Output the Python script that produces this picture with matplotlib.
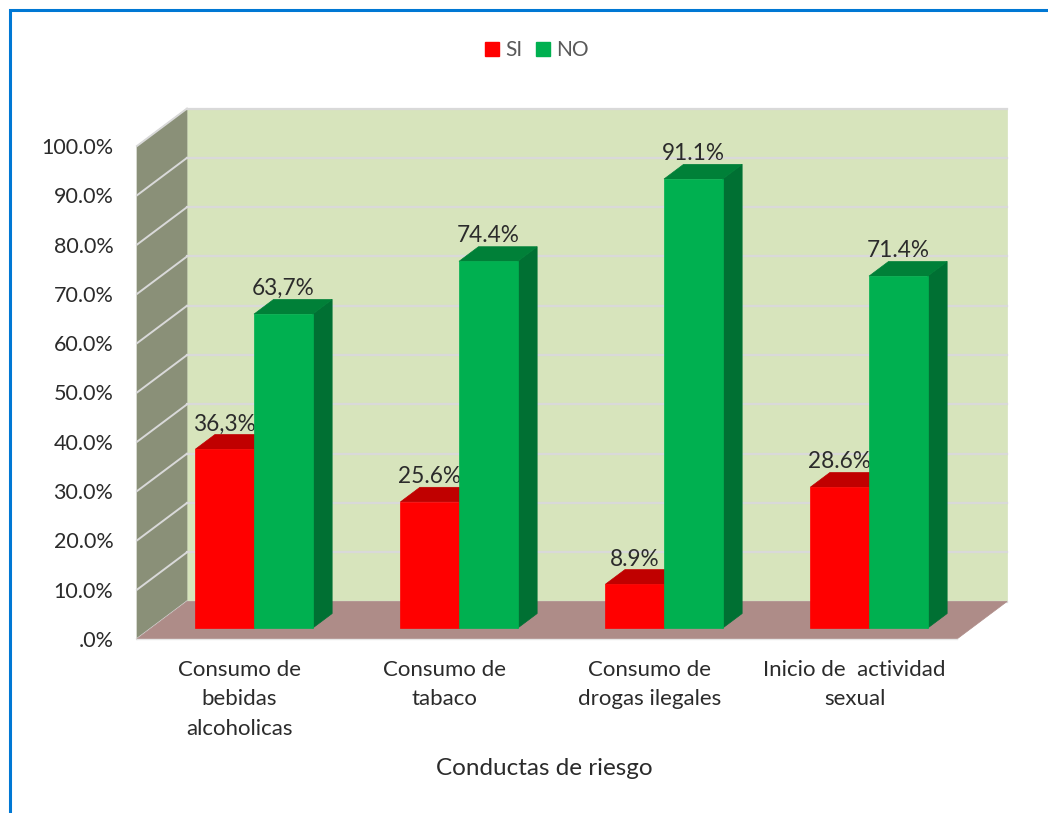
import matplotlib
matplotlib.use("Agg")
import matplotlib.pyplot as plt
from matplotlib.lines import Line2D
from matplotlib.patches import Patch, Polygon

categories = [
    "Consumo de\nbebidas\nalcoholicas",
    "Consumo de\ntabaco",
    "Consumo de\ndrogas ilegales",
    "Inicio de  actividad\nsexual",
]
si_values = [36.3, 25.6, 8.9, 28.6]
no_values = [63.7, 74.4, 91.1, 71.4]
si_labels = ["36,3%", "25.6%", "8.9%", "28.6%"]
no_labels = ["63,7%", "74.4%", "91.1%", "71.4%"]
y_ticks = [0, 10, 20, 30, 40, 50, 60, 70, 80, 90, 100]
y_tick_labels = [".0%", "10.0%", "20.0%", "30.0%", "40.0%", "50.0%",
                 "60.0%", "70.0%", "80.0%", "90.0%", "100.0%"]

W, H = 1048, 813
DEPTH_X = 0.244   # depth of the box in category units
DEPTH_Y = 7.6     # depth of the box in percent units
BAR_W = 0.286
BAR_D0, BAR_D1 = 0.29, 0.68   # where the bars sit inside the box depth

TEXT = "#2B2B2B"
GRID = "#D9D9D9"

plt.rcParams["font.family"] = ["Lato", "DejaVu Sans"]


def poly(ax, pts, color, z):
    ax.add_patch(Polygon(pts, closed=True, facecolor=color, edgecolor=color,
                         linewidth=0.5, zorder=z, clip_on=False))


def at_depth(x, y, d):
    return (x + d * DEPTH_X, y + d * DEPTH_Y)


def draw_bar(ax, x0, value, front, top, side, z):
    x1 = x0 + BAR_W
    # front face
    poly(ax, [at_depth(x0, 0, BAR_D0), at_depth(x1, 0, BAR_D0),
              at_depth(x1, value, BAR_D0), at_depth(x0, value, BAR_D0)], front, z + 0.2)
    # top face
    poly(ax, [at_depth(x0, value, BAR_D0), at_depth(x1, value, BAR_D0),
              at_depth(x1, value, BAR_D1), at_depth(x0, value, BAR_D1)], top, z + 0.1)
    # right face
    poly(ax, [at_depth(x1, 0, BAR_D0), at_depth(x1, 0, BAR_D1),
              at_depth(x1, value, BAR_D1), at_depth(x1, value, BAR_D0)], side, z)


fig = plt.figure(figsize=(W / 100, H / 100), dpi=100)
ax = fig.add_axes([137 / W, 1 - 639 / H, 820 / W, 493 / H])
ax.set_xlim(0, 4)
ax.set_ylim(0, 100)
ax.patch.set_visible(False)
for s in ax.spines.values():
    s.set_visible(False)

# back wall, left wall, floor
poly(ax, [at_depth(0, 0, 1), at_depth(4, 0, 1), at_depth(4, 100, 1), at_depth(0, 100, 1)], "#D7E4BC", 1)
poly(ax, [at_depth(0, 0, 0), at_depth(0, 0, 1), at_depth(0, 100, 1), at_depth(0, 100, 0)], "#8A9078", 1)

for t in y_ticks:
    ax.plot(*zip(at_depth(0, t, 1), at_depth(4, t, 1)), color=GRID, lw=1.6, zorder=2, clip_on=False)
    ax.plot(*zip(at_depth(0, t, 0), at_depth(0, t, 1)), color=GRID, lw=1.4, zorder=2, clip_on=False)

poly(ax, [at_depth(0, 0, 0), at_depth(4, 0, 0), at_depth(4, 0, 1), at_depth(0, 0, 1)], "#AE8C88", 3)
ax.plot(*zip(at_depth(0, 0, 0), at_depth(4, 0, 0)), color="#E6E6E6", lw=1, zorder=3.5, clip_on=False)

for i, (si, no) in enumerate(zip(si_values, no_values)):
    z = 4 + i * 2
    x_mid = i + 0.5
    draw_bar(ax, x_mid - BAR_W, si, "#FF0000", "#C00000", "#C00000", z)
    x, y = at_depth(x_mid - BAR_W / 2, si + 5.1, BAR_D0)
    ax.text(x, y, si_labels[i], ha="center", va="center", fontsize=16.3, color=TEXT, zorder=z + 0.5)
    draw_bar(ax, x_mid, no, "#00B050", "#008038", "#007033", z + 1)
    x, y = at_depth(x_mid + BAR_W / 2, no + 5.2, BAR_D0)
    ax.text(x, y, no_labels[i], ha="center", va="center", fontsize=16.3, color=TEXT, zorder=z + 1.5)

ax.set_yticks(y_ticks)
ax.set_yticklabels(y_tick_labels, fontsize=15.5, color=TEXT)
ax.set_xticks([i + 0.5 for i in range(4)])
ax.set_xticklabels(categories, fontsize=16, color=TEXT, linespacing=1.6)
ax.tick_params(axis="y", length=0, pad=17)
ax.tick_params(axis="x", length=0, pad=15)
ax.set_xlabel("Conductas de riesgo", fontsize=17.5, color=TEXT, labelpad=14, x=0.497)

handles = [Patch(color="#FF0000", label="SI"), Patch(color="#00B050", label="NO")]
fig.legend(handles=handles, loc="center", bbox_to_anchor=(537 / W, 1 - 50 / H), ncol=2,
           frameon=False, fontsize=15, labelcolor="#595959", handlelength=0.67, handleheight=0.67,
           handletextpad=0.3, columnspacing=0.65)

# blue frame around the slide, cut by the right and bottom edges
fig.add_artist(Line2D([9.5 / W, 9.5 / W, 1], [0, 1 - 10.5 / H, 1 - 10.5 / H],
                      color="#0078D4", lw=2.2, transform=fig.transFigure, solid_joinstyle="miter"))

fig.savefig("out.png", dpi=100)
